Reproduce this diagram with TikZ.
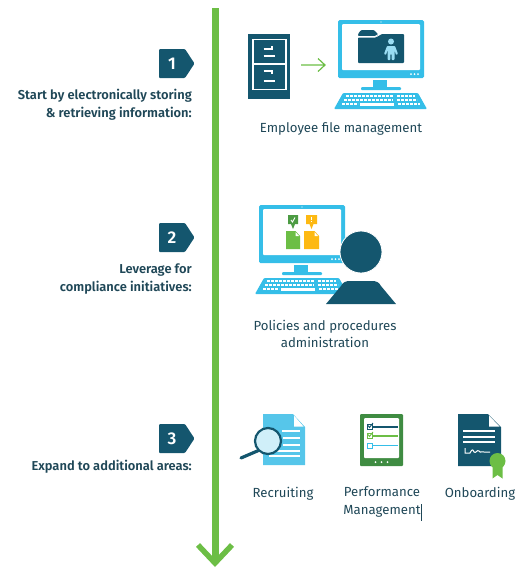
\documentclass[tikz,border=0pt]{standalone}
\usepackage{fontspec}
\setmainfont{Fira Sans}
\definecolor{teal}{HTML}{14566E}
\definecolor{cyanb}{HTML}{35BEE8}
\definecolor{lcyan}{HTML}{56C6EA}
\definecolor{grn}{HTML}{6CBE45}
\definecolor{dgrn}{HTML}{3F8C42}
\definecolor{yel}{HTML}{FDB913}
\definecolor{ink}{HTML}{1F4757}
\newfontface\medium{Fira Sans SemiBold}
\tikzset{
  lab/.style={font=\fontsize{13.2}{17.5}\selectfont,text=ink,align=center,inner sep=0pt},
  side/.style={font=\fontsize{12.9}{18}\selectfont\medium,text=ink,align=right,inner sep=0pt,anchor=east},
  num/.style={font=\fontsize{17}{17}\selectfont\medium,text=white,inner sep=0pt},
}
% monitor: origin is the top-left corner of the case, 86 x 58 px
\newcommand{\monitorkb}{%
  \fill[cyanb,rounded corners=1.5pt] (0,0) rectangle (86,58);
  \fill[white,rounded corners=1pt] (4,4) rectangle (82,50);
  \fill[white] (43,2) circle (.7);
  \foreach \x in {73,76.5,80} \fill[white] (\x,54) circle (1);
  \fill[cyanb] (35,60) rectangle (49,67);
  \fill[cyanb,rounded corners=1pt] (23,67) rectangle (63,70);
  \fill[cyanb,rounded corners=1pt] (5,73) -- (80,73) -- (89,89) -- (-4,89) -- cycle;
  \foreach \r/\a/\b in {76/8/55,80/6/55,84/4/20}{
    \draw[white,line width=2.4pt,dash pattern=on 3.2pt off .8pt] (\a,\r) -- (\b,\r);}
  \draw[white,line width=2.4pt] (22,84.5) -- (56,84.5);
  \foreach \r/\a/\b in {76/59/77,80/59/79,84/60/82}{
    \draw[white,line width=2.4pt,dash pattern=on 3.2pt off .8pt] (\a,\r) -- (\b,\r);}
}
\begin{document}
\begin{tikzpicture}[x=1pt,y=-1pt]
\useasboundingbox (0,0) rectangle (526,574);
% timeline
\coordinate (top) at (215,8);
\coordinate (tip) at (215,563);
\coordinate (hl) at (198,545);
\coordinate (hr) at (232,545);
\draw[grn,line width=7pt] (top) -- (215,560);
\draw[grn,line width=5.5pt,line join=miter] (hl) -- (tip) -- (hr);
% badges
\foreach \y/\n in {49/1,223/2,424/3}{
  \fill[teal,rounded corners=1pt] (159,\y) -- (185,\y) -- (194.5,\y+14.5) -- (185,\y+29) -- (159,\y+29) -- cycle;
  \node[num] (badge\n) at (172,\y+14.5) {\n};
}
\node[side] (t1) at (192,104.5) {Start by electronically storing\\\& retrieving information:};
\node[side] (t2) at (192,279.5) {Leverage for\\compliance initiatives:};
\node[side] (t3) at (192,467) {Expand to additional areas:};
% cabinet
\fill[teal] (248,34) rectangle (290,99);
\draw[white,line width=1.3pt] (253,39.5) rectangle (286,89.5) (253,64) -- (286,64);
\draw[white,line width=1.1pt] (263.5,56) -- (275,56) (263.5,49) -- (272,49) -- (272,46)
  (263.5,81) -- (275,81) (263.5,71) -- (272,71) -- (272,74);
% arrow
\coordinate (a1) at (301,65);
\coordinate (a2) at (325,65);
\draw[grn,line width=1.2pt] (a1) -- (a2) (318,58.5) -- (a2) -- (318,71.5);
% monitor 1
\begin{scope}[shift={(338,20)}]\monitorkb\end{scope}
\fill[teal,rounded corners=1pt] (358,34) -- (361,30) -- (374,30) -- (378,34) -- (378,36) -- (358,36) -- cycle;
\fill[teal,rounded corners=.8pt] (358,37.5) -- (376,37.5) -- (382,34) -- (404,34) -- (404,63) -- (358,63) -- cycle;
\draw[white,line width=.9pt] (358,36.5) -- (375,36.5) -- (381,33) -- (404,33);
\fill[lcyan!60!white] (391,41.5) circle (3);
\fill[lcyan!60!white,rounded corners=.8pt] (387,46) -- (395,46) -- (398,54) -- (396,55) -- (394.5,50) -- (394.5,60) -- (391.6,60) -- (391.6,54) -- (390.4,54) -- (390.4,60) -- (387.5,60) -- (387.5,50) -- (386,55) -- (384,54) -- cycle;
\node[lab] (l1) at (341,129) {Employee file management};
% monitor 2
\begin{scope}[shift={(259,205)}]\monitorkb\end{scope}
\fill[dgrn!70!grn] (288,215) rectangle (298,224) (291,224) -- (295,224) -- (293,229) -- cycle;
\draw[white,line width=.9pt] (291,220) -- (292.5,222) -- (295,217.5);
\fill[yel] (306,215) rectangle (317,224) (309.5,224) -- (313.5,224) -- (311.5,229) -- cycle;
\draw[white,line width=.9pt] (311.5,216.5) -- (311.5,220) (311.5,221.2) -- (311.5,222.4);
\fill[grn] (286,231) -- (295.5,231) -- (300,236) -- (300,249) -- (286,249) -- cycle;
\fill[yel] (304,231) -- (314.5,231) -- (319,236) -- (319,249) -- (304,249) -- cycle;
\fill[white] (295.5,232) -- (299,236) -- (295.5,236) -- cycle (314.5,232) -- (318,236) -- (314.5,236) -- cycle;
% person
\fill[teal,draw=white,line width=.8pt] (361,252) circle (21);
\fill[teal] (326,304) -- (341,286) .. controls (343,282) and (346,281) .. (350,281) -- (372,281) .. controls (376,281) and (379,282) .. (381,286) -- (396,304) -- cycle;
\node[lab] (l2) at (325,334) {Policies and procedures\\administration};
% recruiting
\fill[lcyan] (263,414) -- (293,414) -- (305,427) -- (305,465) -- (263,465) -- cycle;
\fill[white] (294,415.5) -- (303.5,426.5) -- (294,426.5) -- cycle;
\foreach \y/\a in {431/282,438/283,445/283,451/277,456/269}{\draw[white,line width=1.1pt] (\a,\y) -- (300,\y);}
\fill[white!72!lcyan] (268,441) circle (13);
\draw[teal,line width=2.2pt] (268,441) circle (13);
\draw[teal,line width=3.2pt,line cap=round] (258.5,450.5) -- (241,458);
% performance
\fill[dgrn,rounded corners=1pt] (360,414) rectangle (403,466);
\fill[white,rounded corners=1pt] (364,418) rectangle (399,458);
\foreach \x in {375.5,381.5,387.5} \fill[white] (\x,462) circle (1);
\draw[teal,line width=.9pt] (367,424) rectangle (372,429);
\draw[teal,line width=1.3pt] (373,427) -- (398,427);
\draw[teal,line width=.9pt] (368,425.5) -- (369.5,427.5) -- (373,423);
\draw[grn,line width=.9pt] (367,433) rectangle (372,438);
\draw[grn,line width=1.3pt] (373,436) -- (398,436);
\draw[grn,line width=.9pt] (368,434.5) -- (369.5,436.5) -- (373,432);
\draw[cyanb,line width=.9pt] (367,443) rectangle (372,448);
\draw[cyanb,line width=1.3pt] (373,445.5) -- (398,445.5);
% onboarding
\fill[teal] (458,414) -- (488,414) -- (501,427) -- (501,466) -- (458,466) -- cycle;
\fill[white] (489,415.5) -- (499.5,426.5) -- (489,426.5) -- cycle;
\foreach \y in {431,437,442}{\draw[white,line width=1.1pt] (463,\y) -- (495,\y);}
\draw[white,line width=1pt] (465,448) -- (465,453) -- (470,453) .. controls (472,449) and (473,449) .. (474,452) .. controls (476,454) and (477,449) .. (479,451) .. controls (481,454) and (482,450) .. (484,452) -- (490,452);
\fill[grn] (492.5,465) -- (492.5,478.5) -- (497.5,475) -- (502.5,478.5) -- (502.5,465) -- cycle;
\fill[grn] (497.5,461) circle (8);
% labels
\node[lab] (l3) at (283,494) {Recruiting};
\node[lab,anchor=north] (l4) at (382,486.5) {Performance\\Management};
\node[lab] (l5) at (480,494) {Onboarding};
\coordinate (c1) at (421.5,504);
\coordinate (c2) at (421.5,521);
\draw[ink,line width=.8pt] (c1) -- (c2);
\end{tikzpicture}
\end{document}
